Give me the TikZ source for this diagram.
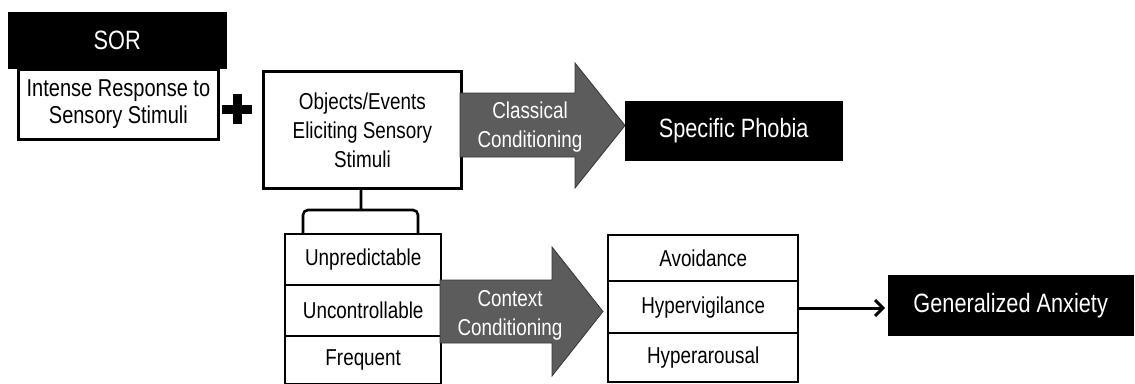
\documentclass[tikz,border=0pt]{standalone}
\usepackage{fontspec}
\setmainfont[FakeStretch=0.82]{Liberation Sans}
\usetikzlibrary{calc}
\definecolor{arrowgray}{RGB}{92,92,92}
\definecolor{arrowedge}{RGB}{55,55,55}
\begin{document}
\begin{tikzpicture}[x=1pt,y=-1pt,
  txt/.style={font=\fontsize{23}{29}\selectfont, align=center, inner sep=0pt},
  wbox/.style={draw=black, line width=2.8pt, fill=white, inner sep=0pt,
    align=center, anchor=north west, font=\fontsize{23}{29}\selectfont},
  rowbox/.style={wbox, line width=2.4pt},
  bbox/.style={draw=black, fill=black, text=white, inner sep=0pt,
    anchor=north west, font=\fontsize{26.5}{30}\selectfont},
  bigarrow/.style={fill=arrowgray, draw=arrowedge, line width=0.8pt},
  arrowtxt/.style={txt, text=white},
  linkline/.style={draw=black, line width=3pt},
]
\useasboundingbox (0,0) rectangle (1135,383);

% sensory over-responsivity
\node[wbox, minimum width=200pt, minimum height=70pt,
      font=\fontsize{24.4}{27}\selectfont] (intense) at (17,68)
  {Intense Response to\\Sensory Stimuli};
\node[bbox, minimum width=218pt, minimum height=56pt] (sor) at (8,12) {SOR};

% plus sign
\coordinate (plus) at (237,109);
\draw[line width=9pt] ($(plus)+(-15,0)$) -- ($(plus)+(15,0)$)
  ($(plus)+(0,-15)$) -- ($(plus)+(0,15)$);

% stimuli box
\node[wbox, minimum width=198pt, minimum height=117pt] (obj) at (262,70)
  {Objects/Events\\Eliciting Sensory\\Stimuli};

% classical conditioning arrow
\draw[bigarrow] (460,93) -- (575,93) -- (575,63) -- (625,125.5)
  -- (575,188) -- (575,157) -- (460,157) -- cycle;
\node[arrowtxt] (classical) at (530,127) {Classical\\Conditioning};

\node[bbox, minimum width=217pt, minimum height=59pt] (phobia) at (625,101)
  {Specific Phobia};

% bracket joining the stimuli box to its properties
\draw[line width=2.6pt, rounded corners=5pt]
  (obj.south -| 361,0) -- (361,210)
  (303,234) -- (303,210) -- (418,210) -- (418,234);

% stimulus properties
\node[rowbox, minimum width=156pt, minimum height=51pt] (unpred) at (284,233) {Unpredictable};
\node[rowbox, minimum width=156pt, minimum height=51pt] (uncont) at (284,284) {Uncontrollable};
\node[rowbox, minimum width=156pt, minimum height=48pt] (freq) at (284,335) {Frequent};

% context conditioning arrow
\draw[bigarrow] (440,280) -- (552,280) -- (552,247) -- (603,311.5)
  -- (552,376) -- (552,343) -- (440,343) -- cycle;
\node[arrowtxt] (context) at (510,315) {Context\\Conditioning};

% responses
\node[rowbox, minimum width=190pt, minimum height=46pt] (avoid) at (607,234) {Avoidance};
\node[rowbox, minimum width=190pt, minimum height=52pt] (vigil) at (607,280) {Hypervigilance};
\node[rowbox, minimum width=190pt, minimum height=49pt] (arous) at (607,332) {Hyperarousal};

\node[bbox, minimum width=245pt, minimum height=60pt] (gad) at (888,275)
  {Generalized Anxiety};

% connector with an open chevron head
\coordinate (linkstart) at (vigil.east |- 0,308);
\coordinate (linkend) at ($(gad.west |- 0,308)+(-5,0)$);
\draw[linkline] (linkstart) -- (linkend);
\draw[linkline, line join=miter, line cap=butt]
  ($(linkend)+(-8,-8)$) -- (linkend) -- ($(linkend)+(-8,8)$);
\end{tikzpicture}
\end{document}
